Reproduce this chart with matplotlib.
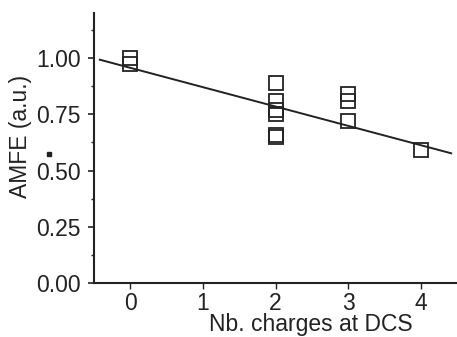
import numpy as np
import matplotlib
matplotlib.use("Agg")
import matplotlib.pyplot as plt
from matplotlib.patches import Rectangle

plt.rcParams['font.family'] = ['Liberation Sans', 'DejaVu Sans']

# data
charges = [0, 0, 2, 2, 2, 2, 2, 2, 3, 3, 3, 4]
amfe = [1.00, 0.975, 0.89, 0.81, 0.77, 0.75, 0.66, 0.65, 0.84, 0.81, 0.72, 0.59]
fit_x = [-0.42, 4.42]
fit_y = [0.993, 0.577]
xticks = [0, 1, 2, 3, 4]
yticks = [0.00, 0.25, 0.50, 0.75, 1.00]

col = '#222222'
fs = 16.5
fig = plt.figure(figsize=(4.57, 3.37), dpi=100)
ax = fig.add_axes([0.2057, 0.160, 0.7943, 0.801])

ax.plot(fit_x, fit_y, color=col, lw=1.4, zorder=2)
ax.plot(charges, amfe, linestyle='none', marker='s', ms=10.5,
        mfc='none', mec=col, mew=1.3, zorder=3)

ax.set_xlim(-0.5, 4.5)
ax.set_ylim(0, 1.2)
ax.set_xticks(xticks)
ax.set_yticks(yticks)
ax.set_yticklabels(['%.2f' % v for v in yticks])
ax.set_yticks(np.arange(0.125, 1.2, 0.25), minor=True)

for s in ['top', 'right']:
    ax.spines[s].set_visible(False)
for s in ['left', 'bottom']:
    ax.spines[s].set_linewidth(1.5)
    ax.spines[s].set_color(col)

ax.tick_params(axis='y', which='major', length=4.5, width=1.2, pad=5,
               labelsize=fs, colors=col)
ax.tick_params(axis='y', which='minor', length=2.5, width=1.0, colors=col)
ax.tick_params(axis='x', which='major', length=4.5, width=1.0, pad=2,
               labelsize=fs, colors=col)

ax.set_xlabel('Nb. charges at DCS', fontsize=fs, color=col)
ax.set_ylabel('AMFE (a.u.)', fontsize=fs, color=col)
ax.xaxis.set_label_coords(0.598, -0.112)
ax.yaxis.set_label_coords(-0.171, 0.544)

# small stray dot near the y label
fig.patches.append(Rectangle((47 / 457, 1 - 156 / 337), 4 / 457, 4 / 337,
                             transform=fig.transFigure, color=col))

fig.savefig('out.png', dpi=100)
